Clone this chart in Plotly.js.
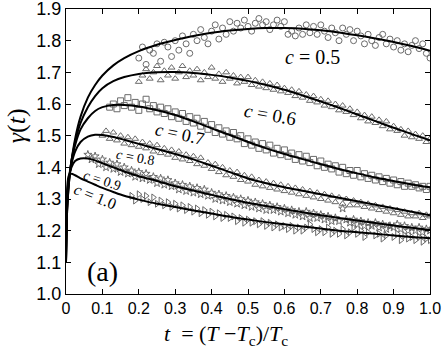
<!DOCTYPE html>
<html>
<head>
<meta charset="utf-8">
<script src="https://cdn.plot.ly/plotly-3.0.1.min.js"></script>
<style>
  body { margin: 0; background: #fff; }
  #plot { width: 443px; height: 354px; }
</style>
</head>
<body>
<div id="plot"></div>
<script>
// t grid for the data points (0.00 .. 1.00)
var tData = [0.00,0.01,0.02,0.03,0.04,0.05,0.06,0.07,0.08,0.09,
  0.10,0.11,0.12,0.13,0.14,0.15,0.16,0.17,0.18,0.19,
  0.20,0.21,0.22,0.23,0.24,0.25,0.26,0.27,0.28,0.29,
  0.30,0.31,0.32,0.33,0.34,0.35,0.36,0.37,0.38,0.39,
  0.40,0.41,0.42,0.43,0.44,0.45,0.46,0.47,0.48,0.49,
  0.50,0.51,0.52,0.53,0.54,0.55,0.56,0.57,0.58,0.59,
  0.60,0.61,0.62,0.63,0.64,0.65,0.66,0.67,0.68,0.69,
  0.70,0.71,0.72,0.73,0.74,0.75,0.76,0.77,0.78,0.79,
  0.80,0.81,0.82,0.83,0.84,0.85,0.86,0.87,0.88,0.89,
  0.90,0.91,0.92,0.93,0.94,0.95,0.96,0.97,0.98,0.99,1.00];

// measured gamma values (null = no point)
var c05Pts = [null,null,null,null,null,null,null,null,null,null,
  null,null,null,null,null,null,null,null,null,null,
  1.745,1.78,1.725,1.77,1.76,1.79,1.735,1.795,1.78,1.75,
  1.80,1.77,1.815,1.79,1.76,1.82,1.80,1.835,1.81,1.79,
  1.83,1.85,1.805,1.84,1.82,1.86,1.83,1.855,1.84,1.865,
  1.845,1.83,1.855,1.87,1.85,1.86,1.835,1.85,1.865,1.845,
  1.86,1.82,1.83,1.815,1.84,1.82,1.85,1.825,1.845,1.82,
  1.85,1.83,1.81,1.84,1.825,1.80,1.84,1.82,1.835,1.80,
  1.83,1.815,1.79,1.82,1.80,1.785,1.81,1.82,1.79,1.805,
  1.78,1.80,1.77,1.79,1.765,1.785,1.80,1.775,1.79,1.76,1.745];

var c06Pts = [null,null,null,null,null,null,null,null,null,null,
  null,null,null,null,null,null,null,null,null,null,
  1.67,1.69,1.71,1.68,1.70,1.72,1.675,1.705,1.69,1.715,
  1.68,1.70,1.72,1.685,1.705,1.69,1.71,1.675,1.70,1.685,
  1.715,1.68,1.695,1.67,1.70,1.68,1.69,1.665,1.685,1.67,
  1.685,1.66,1.675,1.655,1.67,1.65,1.665,1.645,1.66,1.64,
  1.65,1.635,1.645,1.625,1.64,1.62,1.63,1.61,1.625,1.605,
  1.615,1.595,1.61,1.59,1.60,1.58,1.595,1.575,1.585,1.565,
  1.575,1.555,1.565,1.545,1.56,1.54,1.55,1.53,1.545,1.52,
  1.53,1.515,1.52,1.50,1.515,1.495,1.505,1.49,1.50,1.48,1.49];

var c07Pts = [null,null,null,null,null,null,null,null,null,null,
  null,null,1.59,1.60,1.585,1.61,1.595,1.62,1.59,1.605,
  1.58,1.60,1.615,1.585,1.595,1.575,1.59,1.57,1.585,1.56,
  1.575,1.555,1.57,1.545,1.56,1.54,1.555,1.53,1.545,1.52,
  1.535,1.51,1.525,1.505,1.515,1.495,1.51,1.49,1.50,1.475,
  1.49,1.47,1.48,1.46,1.475,1.455,1.47,1.445,1.46,1.44,
  1.455,1.435,1.445,1.425,1.44,1.42,1.435,1.415,1.425,1.405,
  1.42,1.40,1.41,1.395,1.405,1.385,1.40,1.38,1.39,1.375,
  1.39,1.37,1.38,1.365,1.375,1.36,1.37,1.355,1.365,1.35,
  1.36,1.345,1.355,1.34,1.35,1.34,1.345,1.335,1.34,1.33,1.34];

var c08Pts = [null,null,null,null,null,null,null,null,null,null,
  1.50,1.515,1.49,1.51,1.485,1.50,1.475,1.495,1.47,1.49,
  1.465,1.48,1.46,1.475,1.45,1.47,1.445,1.46,1.44,1.455,
  1.43,1.45,1.425,1.44,1.42,1.435,1.41,1.43,1.405,1.415,
  1.395,1.41,1.385,1.40,1.375,1.39,1.37,1.385,1.36,1.375,
  1.355,1.37,1.345,1.36,1.34,1.355,1.335,1.35,1.33,1.345,
  1.325,1.34,1.32,1.335,1.315,1.33,1.31,1.325,1.305,1.32,
  1.30,1.315,1.295,1.31,1.29,1.305,1.285,1.30,1.28,1.295,
  1.28,1.29,1.275,1.285,1.27,1.28,1.265,1.275,1.26,1.27,
  1.255,1.265,1.25,1.26,1.245,1.255,1.245,1.255,1.24,1.25,1.245];

var c09Pts = [null,null,null,null,null,null,1.44,1.425,1.435,1.41,
  1.425,1.40,1.415,1.395,1.41,1.385,1.40,1.38,1.39,1.37,
  1.385,1.365,1.38,1.36,1.37,1.35,1.365,1.345,1.36,1.34,
  1.35,1.33,1.345,1.325,1.34,1.32,1.335,1.315,1.33,1.31,
  1.32,1.30,1.315,1.295,1.31,1.29,1.305,1.285,1.30,1.28,
  1.295,1.275,1.29,1.27,1.285,1.265,1.28,1.265,1.275,1.26,
  1.27,1.255,1.265,1.25,1.26,1.245,1.26,1.24,1.255,1.24,
  1.25,1.235,1.245,1.23,1.24,1.23,1.27,1.235,1.225,1.235,
  1.22,1.23,1.215,1.225,1.215,1.225,1.21,1.22,1.205,1.215,
  1.21,1.22,1.205,1.215,1.20,1.21,1.20,1.21,1.195,1.205,1.20];

var c10Pts = [null,null,null,null,null,null,null,null,null,null,
  null,null,null,null,null,null,null,null,1.31,1.295,
  1.315,1.30,1.31,1.29,1.305,1.285,1.295,1.28,1.29,1.275,
  1.285,1.27,1.28,1.265,1.275,1.26,1.27,1.255,1.265,1.25,
  1.26,1.245,1.255,1.24,1.25,1.24,1.245,1.23,1.24,1.225,
  1.235,1.225,1.23,1.22,1.23,1.215,1.225,1.21,1.22,1.21,
  1.215,1.205,1.215,1.20,1.21,1.20,1.21,1.22,1.205,1.195,
  1.205,1.195,1.21,1.19,1.20,1.19,1.205,1.185,1.195,1.21,
  1.19,1.20,1.18,1.195,1.22,1.185,1.19,1.175,1.185,1.215,
  1.18,1.19,1.17,1.185,1.175,1.18,1.17,1.18,1.165,1.175,1.17];

// fitted curves
var tFit = [0,0.003,0.008,0.015,0.025,0.04,0.06,0.08,0.1,0.13,0.16,0.2,0.25,0.3,0.35,
  0.4,0.45,0.5,0.55,0.6,0.65,0.7,0.75,0.8,0.85,0.9,0.95,1.0];
var c05Fit = [1.10,1.26,1.35,1.42,1.49,1.56,1.62,1.66,1.69,1.722,1.745,1.767,1.787,1.802,1.815,
  1.825,1.832,1.837,1.84,1.84,1.838,1.833,1.826,1.817,1.807,1.796,1.783,1.768];
var c06Fit = [1.10,1.26,1.35,1.42,1.48,1.54,1.59,1.625,1.65,1.672,1.685,1.695,1.70,1.701,1.698,
  1.692,1.684,1.673,1.66,1.645,1.627,1.608,1.588,1.567,1.546,1.525,1.505,1.485];
var c07Fit = [1.10,1.27,1.36,1.42,1.47,1.52,1.555,1.578,1.59,1.597,1.597,1.592,1.58,1.565,1.545,
  1.523,1.502,1.48,1.46,1.442,1.426,1.41,1.395,1.381,1.368,1.357,1.346,1.337];
var c08Fit = [1.10,1.28,1.36,1.41,1.45,1.48,1.497,1.503,1.502,1.496,1.487,1.474,1.458,1.442,1.425,
  1.405,1.385,1.365,1.35,1.337,1.326,1.315,1.304,1.293,1.282,1.271,1.26,1.249];
var c09Fit = [1.10,1.30,1.37,1.40,1.42,1.428,1.428,1.422,1.413,1.40,1.387,1.372,1.357,1.34,1.327,
  1.313,1.30,1.288,1.278,1.268,1.258,1.249,1.24,1.232,1.224,1.216,1.209,1.202];
var c10Fit = [1.10,1.33,1.375,1.38,1.375,1.365,1.355,1.345,1.335,1.322,1.31,1.298,1.285,1.275,1.264,
  1.254,1.244,1.235,1.227,1.22,1.213,1.207,1.20,1.195,1.19,1.185,1.18,1.176];

var xTicks = [0,0.1,0.2,0.3,0.4,0.5,0.6,0.7,0.8,0.9,1.0];
var xTickText = ['0','0.1','0.2','0.3','0.4','0.5','0.6','0.7','0.8','0.9','1.0'];
var yTicks = [1.0,1.1,1.2,1.3,1.4,1.5,1.6,1.7,1.8,1.9];

var ptSeries = [
  {y: c05Pts, sym: 'circle-open'},
  {y: c06Pts, sym: 'triangle-up-open'},
  {y: c07Pts, sym: 'square-open'},
  {y: c08Pts, sym: 'triangle-up-open'},
  {y: c09Pts, sym: 'star-open'},
  {y: c10Pts, sym: 'triangle-right-open'}
];
var fitSeries = [c05Fit, c06Fit, c07Fit, c08Fit, c09Fit, c10Fit];

var data = [];
ptSeries.forEach(function(s) {
  data.push({
    x: tData, y: s.y, type: 'scatter', mode: 'markers',
    marker: {symbol: s.sym, size: 6, color: '#6a6a6a', line: {width: 1, color: '#6a6a6a'}},
    hoverinfo: 'skip'
  });
});
fitSeries.forEach(function(f) {
  data.push({
    x: tFit, y: f, type: 'scatter', mode: 'lines',
    line: {color: '#000', width: 2, shape: 'spline', smoothing: 0.8}
  });
});

var serif = 'Liberation Serif, Times New Roman, serif';
function lab(x, y, txt, size, ang) {
  return {x: x, y: y, xref: 'x', yref: 'y', text: txt, showarrow: false,
    xanchor: 'center', yanchor: 'middle',
    textangle: ang, font: {family: serif, size: size, color: '#000'}};
}

var layout = {
  width: 443, height: 354,
  margin: {l: 66, r: 13, t: 9, b: 60},
  showlegend: false,
  paper_bgcolor: '#fff', plot_bgcolor: '#fff',
  font: {family: 'Liberation Sans, Arial, sans-serif', color: '#000'},
  xaxis: {
    range: [0, 1], tickvals: xTicks, ticktext: xTickText,
    ticks: 'inside', ticklen: 5, tickcolor: '#000',
    showline: true, linecolor: '#000', linewidth: 1, mirror: 'ticks',
    showgrid: false, zeroline: false, tickfont: {size: 16},
    ticklabeloverflow: 'allow'
  },
  yaxis: {
    range: [1.0, 1.9], tickvals: yTicks, tickformat: '.1f',
    ticks: 'inside', ticklen: 5, tickcolor: '#000',
    showline: true, linecolor: '#000', linewidth: 1, mirror: 'ticks',
    showgrid: false, zeroline: false, tickfont: {size: 18},
    ticklabeloverflow: 'allow'
  },
  annotations: [
    lab(0.676, 1.749, '<i>c</i> = 0.5', 20, 0),
    lab(0.56, 1.567, '<i>c</i> = 0.6', 19, 10),
    lab(0.313, 1.505, '<i>c</i> = 0.7', 18, 12),
    lab(0.19, 1.43, '<i>c</i> = 0.8', 14, 10),
    lab(0.10, 1.36, '<i>c</i> = 0.9', 14, 18),
    lab(0.08, 1.307, '<i>c</i> = 1.0', 16, 22),
    lab(0.099, 1.072, '(a)', 28, 0),
    {x: -0.137, y: 0.589, xref: 'paper', yref: 'paper', showarrow: false,
      xanchor: 'center', yanchor: 'middle',
      text: '<i>γ</i>(<i>t</i>)', textangle: -90,
      font: {family: serif, size: 26, color: '#000'}},
    {x: 0.44, y: -0.143, xref: 'paper', yref: 'paper', showarrow: false,
      xanchor: 'center', yanchor: 'middle',
      text: '<i>t</i>  = (<i>T</i> −<i>T</i><sub>c</sub>)/<i>T</i><sub>c</sub>',
      font: {family: serif, size: 22, color: '#000'}}
  ]
};

Plotly.newPlot('plot', data, layout, {displayModeBar: false, staticPlot: true});
</script>
</body>
</html>
